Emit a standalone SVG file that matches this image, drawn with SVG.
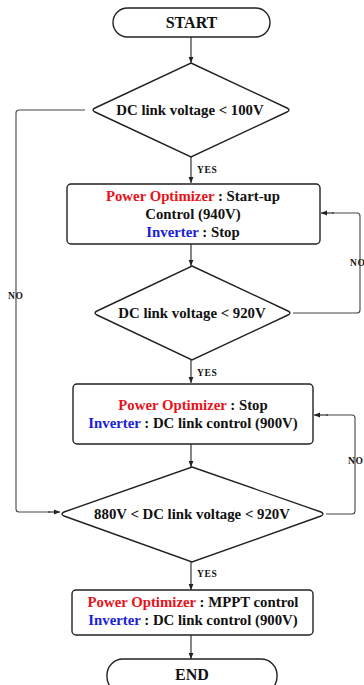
<svg xmlns="http://www.w3.org/2000/svg" width="364" height="685" viewBox="0 0 364 685">
<defs>
<marker id="ah" viewBox="0 0 10 10" refX="10" refY="5" markerWidth="6" markerHeight="6" orient="auto" markerUnits="userSpaceOnUse">
<path d="M0,1 L10,5 L0,9 Z" fill="#222"/>
</marker>
</defs>
<style>
.shape{fill:#fff;stroke:#222;stroke-width:1.4}
.conn{fill:none;stroke:#444;stroke-width:1.1}
.arr{fill:none;stroke:#222;stroke-width:1.1;marker-end:url(#ah)}
text{font-family:"Liberation Serif","Times New Roman",serif;font-weight:bold;fill:#111}
.t{font-size:14.8px;text-anchor:middle}
.big{font-size:16px;text-anchor:middle}
.lbl{font-size:9.5px;letter-spacing:0.6px}
.red{fill:#e8121a}
.blue{fill:#1a22d8}
</style>
<rect width="364" height="685" fill="#fff"/>
<g id="connectors">
<line class="arr" x1="191" y1="37" x2="191" y2="63"/>
<line class="arr" x1="191" y1="157" x2="191" y2="183"/>
<line class="arr" x1="191" y1="244" x2="191" y2="266"/>
<line class="arr" x1="191" y1="360" x2="191" y2="383"/>
<line class="arr" x1="191" y1="444" x2="191" y2="467"/>
<line class="arr" x1="191" y1="562" x2="191" y2="590"/>
<line class="arr" x1="191" y1="635" x2="191" y2="659"/>
<path class="conn" d="M85,110 L19,110 Q16,110 16,113 L16,509 Q16,512 19,512 L50,512"/>
<line class="arr" x1="48" y1="512" x2="60" y2="512"/>
<path class="conn" d="M293,313 L357,313 Q360,313 360,310 L360,216 Q360,213 357,213 L332,213"/>
<line class="arr" x1="334" y1="213" x2="321" y2="213"/>
<path class="conn" d="M326,514 L352,514 Q355,514 355,511 L355,418 Q355,415 352,415 L326,415"/>
<line class="arr" x1="328" y1="415" x2="314" y2="415"/>
<text class="lbl" x="197" y="173">YES</text>
<text class="lbl" x="197" y="376">YES</text>
<text class="lbl" x="197" y="577">YES</text>
<text class="lbl" x="8" y="299">NO</text>
<text class="lbl" x="350" y="266">NO</text>
<text class="lbl" x="348" y="464">NO</text>
</g>
<g id="start">
<rect class="shape" x="113" y="8" width="157" height="29" rx="14.5"/>
<text class="big" x="191.5" y="28">START</text>
</g>
<g id="dec1">
<path class="shape" d="M191,63 L287,108 Q291,110 287,112 L191,157 L95,112 Q91,110 95,108 Z"/>
<text class="t" x="190" y="115">DC link voltage &lt; 100V</text>
</g>
<g id="box1">
<rect class="shape" x="67" y="184" width="253" height="60" rx="4"/>
<text class="t" x="193" y="201"><tspan class="red">Power Optimizer</tspan> : Start-up</text>
<text class="t" x="193" y="219">Control (940V)</text>
<text class="t" x="193" y="237"><tspan class="blue">Inverter</tspan> : Stop</text>
</g>
<g id="dec2">
<path class="shape" d="M192,266 L288,311 Q292,313 288,315 L192,360 L97,315 Q93,313 97,311 Z"/>
<text class="t" x="192" y="318">DC link voltage &lt; 920V</text>
</g>
<g id="box2">
<rect class="shape" x="73" y="384" width="240" height="60" rx="4"/>
<text class="t" x="193" y="410"><tspan class="red">Power Optimizer</tspan> : Stop</text>
<text class="t" x="193" y="428"><tspan class="blue">Inverter</tspan> : DC link control (900V)</text>
</g>
<g id="dec3">
<path class="shape" d="M192,467 L321,512 Q325,514 321,516 L192,562 L64,516 Q60,514 64,512 Z"/>
<text class="t" x="192" y="519">880V &lt; DC link voltage &lt; 920V</text>
</g>
<g id="box3">
<rect class="shape" x="72" y="590" width="241" height="45" rx="4"/>
<text class="t" x="193" y="607"><tspan class="red">Power Optimizer</tspan> : MPPT control</text>
<text class="t" x="193" y="625"><tspan class="blue">Inverter</tspan> : DC link control (900V)</text>
</g>
<g id="end">
<rect class="shape" x="107" y="659" width="170" height="34" rx="16"/>
<text class="big" x="192" y="680">END</text>
</g>
</svg>
